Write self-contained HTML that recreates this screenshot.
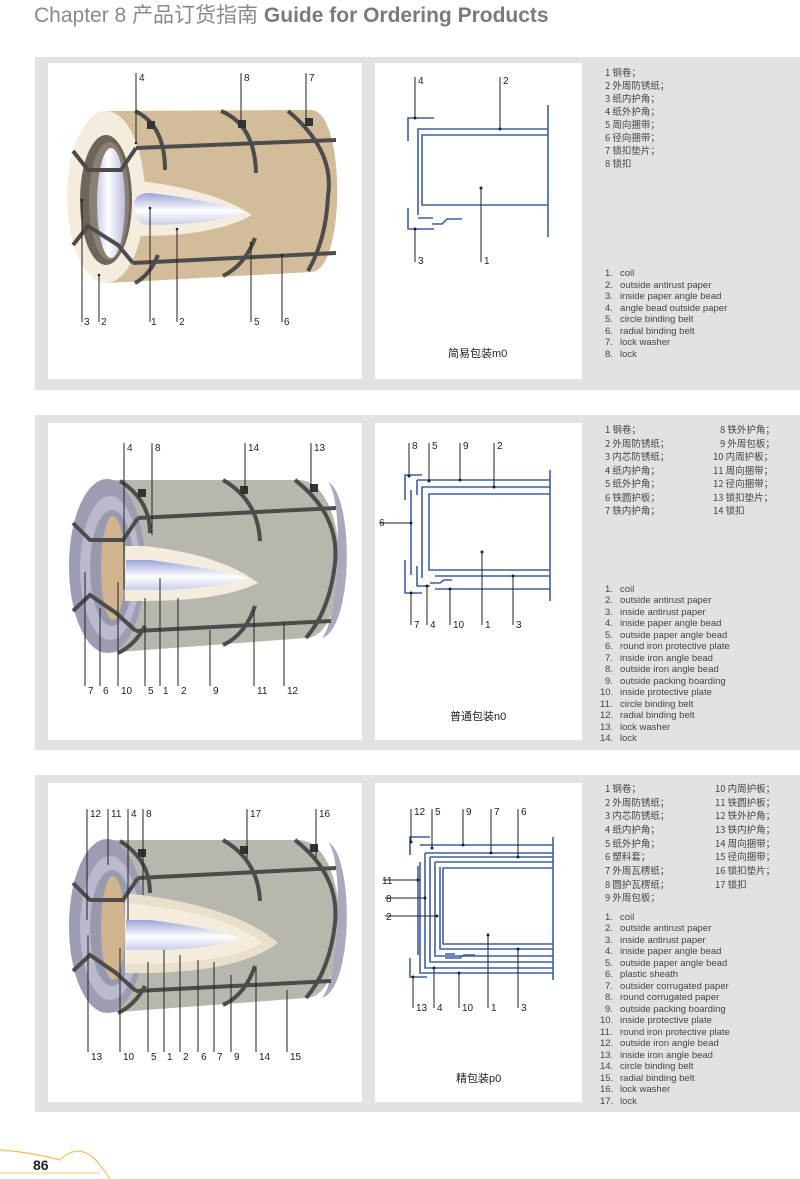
<!DOCTYPE html>
<html><head><meta charset="utf-8"><style>
body{margin:0;width:800px;height:1179px;background:#fff;overflow:hidden;font-family:"Liberation Sans","Noto Sans CJK SC",sans-serif}
svg{position:absolute;left:0;top:0}
</style></head><body>
<svg width="800" height="1179" viewBox="0 0 800 1179" font-family="Liberation Sans, Noto Sans CJK SC, sans-serif">
<defs>
<linearGradient id="hole" x1="0" x2="1"><stop offset="0" stop-color="#c7cbe8"/><stop offset=".4" stop-color="#fff"/><stop offset="1" stop-color="#b8bde0"/></linearGradient>
<linearGradient id="cone" x1="0" x2="0" y1="0" y2="1"><stop offset="0" stop-color="#9aa3d8"/><stop offset=".55" stop-color="#fff"/><stop offset="1" stop-color="#c9cde8"/></linearGradient>
</defs>
<text x="34" y="22" font-size="21" fill="#8a8a8a">Chapter 8 <tspan font-family="Noto Sans CJK SC, sans-serif">产品订货指南</tspan> <tspan font-weight="bold" fill="#7a7a7a">Guide for Ordering Products</tspan></text>

<!-- panels -->
<rect x="35" y="57" width="765" height="333" fill="#e2e2e2"/>
<rect x="48" y="63" width="314" height="316" fill="#fff"/>
<rect x="375" y="63" width="207" height="316" fill="#fff"/>
<rect x="35" y="415" width="765" height="335" fill="#e2e2e2"/>
<rect x="48" y="423" width="314" height="317" fill="#fff"/>
<rect x="375" y="423" width="207" height="317" fill="#fff"/>
<rect x="35" y="775" width="765" height="337" fill="#e2e2e2"/>
<rect x="48" y="783" width="314" height="319" fill="#fff"/>
<rect x="375" y="783" width="207" height="319" fill="#fff"/>

<!-- coil 1 -->
<g>
<path d="M108,111 L311,110 C346,110 346,272 311,272 L108,283 Z" fill="#d3bc99"/>
<ellipse cx="106" cy="197" rx="39" ry="86" fill="#f4ecdc"/>
<ellipse cx="106" cy="200" rx="26" ry="65" fill="#6d655a"/>
<ellipse cx="109" cy="201" rx="20" ry="59" fill="#8a8072"/>
<ellipse cx="111" cy="203" rx="14" ry="55" fill="url(#hole)"/>
<path d="M140,181 Q215,190 252,215 Q215,236 140,236 Z" fill="#f4ecdc"/>
<path d="M134,203 Q136,193 150,193 Q210,200 245,212 Q210,225 150,225 Q134,225 134,203 Z" fill="url(#cone)"/>
<g stroke="#4c4c4c" stroke-width="4" fill="none">
<path d="M136,148 L336,140"/><path d="M133,263 L336,253"/>
<path d="M73,151 L88,170 L121,170 L136,148"/><path d="M73,245 L88,226 L118,245 L133,263"/>
<path d="M135,111 Q165,125 165,170"/><path d="M221,111 Q255,125 256,173"/><path d="M288,111 Q335,150 328,196 Q326,240 308,271"/>
<path d="M158,255 Q150,275 135,283"/><path d="M255,238 Q245,265 223,276"/>
</g>
<rect x="147" y="121" width="8" height="8" fill="#333"/><rect x="238" y="120" width="8" height="8" fill="#333"/><rect x="305" y="118" width="8" height="8" fill="#333"/>
</g>
<g stroke="#222" stroke-width="1">
<path d="M136,73V143M241,73V124M306,73V121"/>
<path d="M82,322V200M99,322V275M150,322V208M177,322V229M251,322V243M282,322V255"/>
</g>
<g fill="#222"><circle cx="136" cy="143" r="1.3"/><circle cx="82" cy="200" r="1.3"/><circle cx="99" cy="275" r="1.3"/><circle cx="150" cy="208" r="1.3"/><circle cx="177" cy="229" r="1.3"/><circle cx="251" cy="243" r="1.3"/><circle cx="282" cy="255" r="1.3"/></g>
<g font-size="10" fill="#222"><text x="139" y="81">4</text><text x="244" y="81">8</text><text x="309" y="81">7</text>
<text x="84" y="325">3</text><text x="101" y="325">2</text><text x="151" y="325">1</text><text x="179" y="325">2</text><text x="254" y="325">5</text><text x="284" y="325">6</text></g>

<!-- coil 2 -->
<g id="c2">
<path d="M106,480 L298,480 C352,480 352,638 306,638 L106,653 Z" fill="#b7b7ad"/>
<path d="M328,482 C354,495 354,628 322,638 C340,618 344,500 328,482 Z" fill="#a8a9bc"/>
<ellipse cx="107" cy="566" rx="38" ry="87" fill="#9c9db2"/>
<ellipse cx="110" cy="568" rx="30" ry="72" fill="#b9bacd"/>
<ellipse cx="112" cy="568" rx="22" ry="58" fill="#9899ad"/>
<ellipse cx="113" cy="568" rx="12" ry="52" fill="#cfb48e"/>
</g>
<path d="M125,546 L145,546 Q222,555 258,583 Q222,601 145,601 L125,601 Z" fill="#f4ecdc"/>
<path d="M126,560 L150,560 Q212,568 248,578 Q212,590 150,590 L126,590 Z" fill="url(#cone)"/>
<g id="s2">
<g stroke="#4c4c4c" stroke-width="4" fill="none">
<path d="M138,518 L336,508"/><path d="M136,631 L331,621"/>
<path d="M73,523 L90,540 L123,540 L138,518"/><path d="M73,611 L90,595 L116,613 L136,631"/>
<path d="M120,481 Q150,500 150,533"/><path d="M223,480 Q258,500 260,541"/><path d="M295,480 Q340,515 335,563 Q330,610 306,638"/>
<path d="M145,626 Q135,645 118,653"/><path d="M255,606 Q245,635 223,645"/>
</g>
<rect x="138" y="489" width="8" height="8" fill="#333"/><rect x="240" y="486" width="8" height="8" fill="#333"/><rect x="310" y="484" width="8" height="8" fill="#333"/>
</g>
<g stroke="#222" stroke-width="1">
<path d="M124,443V590M152,443V535M245,443V490M311,443V488"/>
<path d="M85,686V572M100,686V608M118,686V582M145,686V598M160,686V578M178,686V598M210,686V630M254,686V610M284,686V622"/>
</g>
<g font-size="10" fill="#222"><text x="127" y="451">4</text><text x="155" y="451">8</text><text x="248" y="451">14</text><text x="314" y="451">13</text>
<text x="88" y="694">7</text><text x="103" y="694">6</text><text x="121" y="694">10</text><text x="148" y="694">5</text><text x="163" y="694">1</text><text x="181" y="694">2</text><text x="213" y="694">9</text><text x="257" y="694">11</text><text x="287" y="694">12</text></g>

<!-- coil 3 -->
<g transform="translate(0,360)">
<use href="#c2"/>
<path d="M125,533 Q235,545 278,583 Q235,615 125,613 Z" fill="#e8dfcc"/>
<path d="M125,543 Q225,552 262,583 Q225,605 125,604 Z" fill="#f4ecdc"/>
<path d="M126,560 L150,560 Q212,568 240,578 Q212,590 150,590 L126,590 Z" fill="url(#cone)"/>
<use href="#s2"/>
</g>
<g stroke="#222" stroke-width="1">
<path d="M87,809V920M108,809V865M128,809V920M143,809V895M247,809V858M316,809V858"/>
<path d="M88,1052V935M120,1052V948M148,1052V962M164,1052V950M180,1052V955M198,1052V960M214,1052V962M231,1052V975M256,1052V968M287,1052V990"/>
</g>
<g font-size="10" fill="#222"><text x="90" y="817">12</text><text x="111" y="817">11</text><text x="131" y="817">4</text><text x="146" y="817">8</text><text x="250" y="817">17</text><text x="319" y="817">16</text>
<text x="91" y="1060">13</text><text x="123" y="1060">10</text><text x="151" y="1060">5</text><text x="167" y="1060">1</text><text x="183" y="1060">2</text><text x="201" y="1060">6</text><text x="217" y="1060">7</text><text x="234" y="1060">9</text><text x="259" y="1060">14</text><text x="290" y="1060">15</text></g>

<!-- middle diagram 1 -->
<g stroke="#3e5ea6" stroke-width="1.6" fill="none">
<path d="M548,105V237"/>
<path d="M548,129H418V215"/>
<path d="M548,135H422V205H548"/>
<path d="M434,118H408V141"/><path d="M408,208V229H434"/>
<path d="M418,218H433M432,224H442L447,219H462"/>
</g>
<g stroke="#222" stroke-width="1"><path d="M415,77V118M500,77V129M415,229V262M481,188V262"/></g>
<g fill="#222"><circle cx="415" cy="118" r="1.5"/><circle cx="500" cy="129" r="1.5"/><circle cx="415" cy="229" r="1.5"/><circle cx="481" cy="188" r="1.5"/></g>
<g font-size="10" fill="#222"><text x="418" y="84">4</text><text x="503" y="84">2</text><text x="418" y="264">3</text><text x="484" y="264">1</text>
<text x="448" y="357" font-size="11">简易包装m0</text></g>

<!-- middle diagram 2 -->
<g stroke="#3e5ea6" stroke-width="1.6" fill="none">
<path d="M550,470V601"/>
<path d="M417,480H550"/><path d="M417,480V495"/>
<path d="M550,487H422V578"/>
<path d="M550,494H429V570H550"/>
<path d="M435,576H550"/><path d="M435,589H550"/>
<path d="M422,475H405V500"/><path d="M405,560V593H422"/>
<path d="M411,490V575"/>
<path d="M417,566V586H430M430,583H440L444,580H452"/>
</g>
<g stroke="#222" stroke-width="1"><path d="M409,443V476M429,443V481M460,443V480M494,443V487M380,523H411M411,593V625M427,586V625M450,589V625M482,552V625M513,576V625"/></g>
<g fill="#222"><circle cx="409" cy="476" r="1.5"/><circle cx="429" cy="481" r="1.5"/><circle cx="460" cy="480" r="1.5"/><circle cx="494" cy="487" r="1.5"/><circle cx="411" cy="523" r="1.5"/><circle cx="411" cy="593" r="1.5"/><circle cx="427" cy="586" r="1.5"/><circle cx="450" cy="589" r="1.5"/><circle cx="482" cy="552" r="1.5"/><circle cx="513" cy="576" r="1.5"/></g>
<g font-size="10" fill="#222"><text x="412" y="449">8</text><text x="432" y="449">5</text><text x="463" y="449">9</text><text x="497" y="449">2</text><text x="379" y="526">6</text>
<text x="414" y="628">7</text><text x="430" y="628">4</text><text x="453" y="628">10</text><text x="485" y="628">1</text><text x="516" y="628">3</text>
<text x="450" y="720" font-size="11">普通包装n0</text></g>

<!-- middle diagram 3 -->
<g stroke="#3e5ea6" stroke-width="1.6" fill="none">
<path d="M553,837V980"/>
<path d="M420,845H553M425,853H553M430,857H553M435,862H553"/>
<path d="M553,868H443V944H553"/>
<path d="M420,862V973H553"/><path d="M425,853V968H553M430,857V962H553M435,862V956H553M440,867V949H553"/>
<path d="M430,837H410V855"/><path d="M410,958V977H427"/>
<path d="M418,866V955"/>
<path d="M445,954H455M445,958H460L464,955H475"/>
</g>
<g stroke="#222" stroke-width="1"><path d="M411,809V842M432,809V848M463,809V845M491,809V853M518,809V857M383,880H418M385,898H425M385,916H437M413,977V1008M434,968V1008M459,973V1008M488,935V1008M518,949V1008"/></g>
<g fill="#222"><circle cx="411" cy="842" r="1.5"/><circle cx="432" cy="848" r="1.5"/><circle cx="463" cy="845" r="1.5"/><circle cx="491" cy="853" r="1.5"/><circle cx="518" cy="857" r="1.5"/><circle cx="418" cy="880" r="1.5"/><circle cx="425" cy="898" r="1.5"/><circle cx="437" cy="916" r="1.5"/><circle cx="413" cy="977" r="1.5"/><circle cx="434" cy="968" r="1.5"/><circle cx="459" cy="973" r="1.5"/><circle cx="488" cy="935" r="1.5"/><circle cx="518" cy="949" r="1.5"/></g>
<g font-size="10" fill="#222"><text x="414" y="815">12</text><text x="435" y="815">5</text><text x="466" y="815">9</text><text x="494" y="815">7</text><text x="521" y="815">6</text>
<text x="382" y="884">11</text><text x="386" y="902">8</text><text x="386" y="920">2</text>
<text x="416" y="1011">13</text><text x="437" y="1011">4</text><text x="462" y="1011">10</text><text x="491" y="1011">1</text><text x="521" y="1011">3</text>
<text x="456" y="1082" font-size="11">精包装p0</text></g>

<!-- lists -->
<g font-size="9.5" fill="#444">
<g font-family="Noto Sans CJK SC, sans-serif">
<text x="605" y="76">1  钢卷；</text><text x="605" y="89">2  外周防锈纸；</text><text x="605" y="102">3  纸内护角；</text><text x="605" y="115">4  纸外护角；</text><text x="605" y="128">5  周向捆带；</text><text x="605" y="141">6  径向捆带；</text><text x="605" y="154">7  锁扣垫片；</text><text x="605" y="167">8  锁扣</text>
<text x="605" y="433">1  钢卷；</text><text x="605" y="447">2  外周防锈纸；</text><text x="605" y="460">3  内芯防锈纸；</text><text x="605" y="474">4  纸内护角；</text><text x="605" y="487">5  纸外护角；</text><text x="605" y="501">6  铁圆护板；</text><text x="605" y="514">7  铁内护角；</text>
<text x="720" y="433">8  铁外护角；</text><text x="720" y="447">9  外周包板；</text><text x="713" y="460">10  内周护板；</text><text x="713" y="474">11  周向捆带；</text><text x="713" y="487">12  径向捆带；</text><text x="713" y="501">13  锁扣垫片；</text><text x="713" y="514">14  锁扣</text>
<text x="605" y="792">1  钢卷；</text><text x="605" y="806">2  外周防锈纸；</text><text x="605" y="819">3  内芯防锈纸；</text><text x="605" y="833">4  纸内护角；</text><text x="605" y="847">5  纸外护角；</text><text x="605" y="860">6  塑料套；</text><text x="605" y="874">7  外周瓦楞纸；</text><text x="605" y="888">8  圆护瓦楞纸；</text><text x="605" y="901">9  外周包板；</text>
<text x="715" y="792">10  内周护板；</text><text x="715" y="806">11  铁圆护板；</text><text x="715" y="819">12  铁外护角；</text><text x="715" y="833">13  铁内护角；</text><text x="715" y="847">14  周向捆带；</text><text x="715" y="860">15  径向捆带；</text><text x="715" y="874">16  锁扣垫片；</text><text x="715" y="888">17  锁扣</text>
</g>
<g>
<text x="605" y="276">1.</text><text x="620" y="276">coil</text>
<text x="605" y="288">2.</text><text x="620" y="288">outside antirust paper</text>
<text x="605" y="299">3.</text><text x="620" y="299">inside paper angle bead</text>
<text x="605" y="311">4.</text><text x="620" y="311">angle bead outside paper</text>
<text x="605" y="322">5.</text><text x="620" y="322">circle binding belt</text>
<text x="605" y="334">6.</text><text x="620" y="334">radial binding belt</text>
<text x="605" y="345">7.</text><text x="620" y="345">lock washer</text>
<text x="605" y="357">8.</text><text x="620" y="357">lock</text>
</g>
<g>
<text x="605" y="592">1.</text><text x="620" y="592">coil</text>
<text x="605" y="603">2.</text><text x="620" y="603">outside antirust paper</text>
<text x="605" y="615">3.</text><text x="620" y="615">inside antirust paper</text>
<text x="605" y="626">4.</text><text x="620" y="626">inside paper angle bead</text>
<text x="605" y="638">5.</text><text x="620" y="638">outside paper angle bead</text>
<text x="605" y="649">6.</text><text x="620" y="649">round iron protective plate</text>
<text x="605" y="661">7.</text><text x="620" y="661">inside iron angle bead</text>
<text x="605" y="672">8.</text><text x="620" y="672">outside iron angle bead</text>
<text x="605" y="684">9.</text><text x="620" y="684">outside packing boarding</text>
<text x="600" y="695">10.</text><text x="620" y="695">inside protective plate</text>
<text x="600" y="707">11.</text><text x="620" y="707">circle binding belt</text>
<text x="600" y="718">12.</text><text x="620" y="718">radial binding belt</text>
<text x="600" y="730">13.</text><text x="620" y="730">lock washer</text>
<text x="600" y="741">14.</text><text x="620" y="741">lock</text>
</g>
<g>
<text x="605" y="920">1.</text><text x="620" y="920">coil</text>
<text x="605" y="931">2.</text><text x="620" y="931">outside antirust paper</text>
<text x="605" y="943">3.</text><text x="620" y="943">inside antirust paper</text>
<text x="605" y="954">4.</text><text x="620" y="954">inside paper angle bead</text>
<text x="605" y="966">5.</text><text x="620" y="966">outside paper angle bead</text>
<text x="605" y="977">6.</text><text x="620" y="977">plastic sheath</text>
<text x="605" y="989">7.</text><text x="620" y="989">outsider corrugated paper</text>
<text x="605" y="1000">8.</text><text x="620" y="1000">round corrugated paper</text>
<text x="605" y="1012">9.</text><text x="620" y="1012">outside packing boarding</text>
<text x="600" y="1023">10.</text><text x="620" y="1023">inside protective plate</text>
<text x="600" y="1035">11.</text><text x="620" y="1035">round iron protective plate</text>
<text x="600" y="1046">12.</text><text x="620" y="1046">outside iron angle bead</text>
<text x="600" y="1058">13.</text><text x="620" y="1058">inside iron angle bead</text>
<text x="600" y="1069">14.</text><text x="620" y="1069">circle binding belt</text>
<text x="600" y="1081">15.</text><text x="620" y="1081">radial binding belt</text>
<text x="600" y="1092">16.</text><text x="620" y="1092">lock washer</text>
<text x="600" y="1104">17.</text><text x="620" y="1104">lock</text>
</g>
</g>

<!-- footer -->
<path d="M0,1150 Q30,1152 60,1160 Q80,1140 100,1165 L110,1179" stroke="#f2c060" stroke-width="1.2" fill="none"/>
<path d="M0,1173 H100" stroke="#f6d27a" stroke-width="1"/>
<text x="33" y="1170" font-size="14" font-weight="bold" fill="#222">86</text>
</svg>
</body></html>
